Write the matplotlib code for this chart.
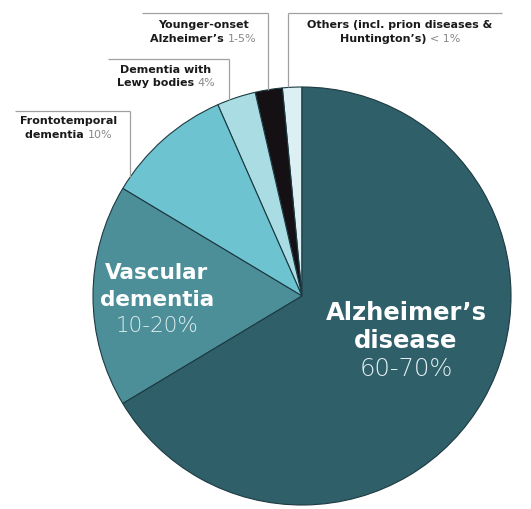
import numpy as np
import matplotlib
matplotlib.use("Agg")
import matplotlib.pyplot as plt

# Data (counter-clockwise from 12 o'clock)
categories = ["Others", "Younger-onset Alzheimer’s", "Dementia with Lewy bodies",
              "Frontotemporal dementia", "Vascular dementia", "Alzheimer’s disease"]
values = [1.5, 2.1, 3.0, 9.8, 17.2, 66.4]
colors = ["#dcf0f3", "#141014", "#aadde3", "#6ec3d0", "#4c8f99", "#2f5f69"]

# label texts: (bold first line, bold second line, regular suffix on last line)
small_labels = [
    ("Others (incl. prion diseases &", "Huntington’s)", "< 1%"),
    ("Younger-onset", "Alzheimer’s", "1-5%"),
    ("Dementia with", "Lewy bodies", "4%"),
    ("Frontotemporal", "dementia", "10%"),
]
big_labels = [
    ("Vascular", "dementia", "10-20%"),
    ("Alzheimer’s", "disease", "60-70%"),
]

W, H = 531, 510
fig = plt.figure(figsize=(W / 100, H / 100), dpi=100)
ax = fig.add_axes([0, 0, 1, 1])

cx, cy, R = 302, H - 297, 209
ax.pie(values, colors=colors, startangle=90, counterclock=True, center=(cx, cy),
       radius=R, wedgeprops=dict(edgecolor="#1d3a42", linewidth=0.8), frame=True)
ax.set_xlim(0, W)
ax.set_ylim(0, H)
ax.axis("off")

FONT = "DejaVu Sans"
dark = "#1a1a1a"
gray = "#888888"
linec = "#a0a0a0"

# layout for the small labels: (center x, first-line y from top, line y, line x0, line x1, vertical x)
layout = [
    (400, 25, 14, 288, 502, 288),
    (203, 25, 14, 142, 268, 268),
    (166, 70, 60, 108, 229, 229),
    (69, 121, 112, 15, 130, 130),
]
fs = 8.0
for (l1, l2, suf), (tx, ty, ly, x0, x1, vx) in zip(small_labels, layout):
    ax.text(tx, H - ty, l1, ha="center", va="center", fontsize=fs,
            fontweight="bold", color=dark, family=FONT)
    t2 = ax.text(tx, H - ty - 13.5, l2 + " ", ha="right", va="center", fontsize=fs,
                 fontweight="bold", color=dark, family=FONT)
    t3 = ax.text(tx, H - ty - 13.5, suf, ha="left", va="center", fontsize=fs,
                 color=gray, family=FONT)
    fig.canvas.draw()
    r = fig.canvas.get_renderer()
    w2 = t2.get_window_extent(r).width
    w3 = t3.get_window_extent(r).width
    shift = (w2 - w3) / 2
    t2.set_x(tx + shift)
    t3.set_x(tx + shift)
    yedge = cy + np.sqrt(max(R ** 2 - (vx - cx) ** 2, 0))
    ax.plot([x0, x1], [H - ly, H - ly], color=linec, lw=0.9, solid_capstyle="butt")
    ax.plot([vx, vx], [H - ly, yedge], color=linec, lw=0.9, solid_capstyle="butt")

# (center x, first-line y from top, font size, line step px)
big_layout = [(157, 273, 15.5, 26.5), (406, 313, 17.5, 28)]
for (a, b, c), (tx, ty, f, step) in zip(big_labels, big_layout):
    ax.text(tx, H - ty, a, ha="center", va="center", fontsize=f, fontweight="bold",
            color="white", family=FONT)
    ax.text(tx, H - ty - step, b, ha="center", va="center", fontsize=f, fontweight="bold",
            color="white", family=FONT)
    ax.text(tx, H - ty - 2 * step, c, ha="center", va="center", fontsize=f,
            fontweight="light", color="#e3eff1", family=FONT)

fig.savefig("out.png", dpi=100, facecolor="white")
